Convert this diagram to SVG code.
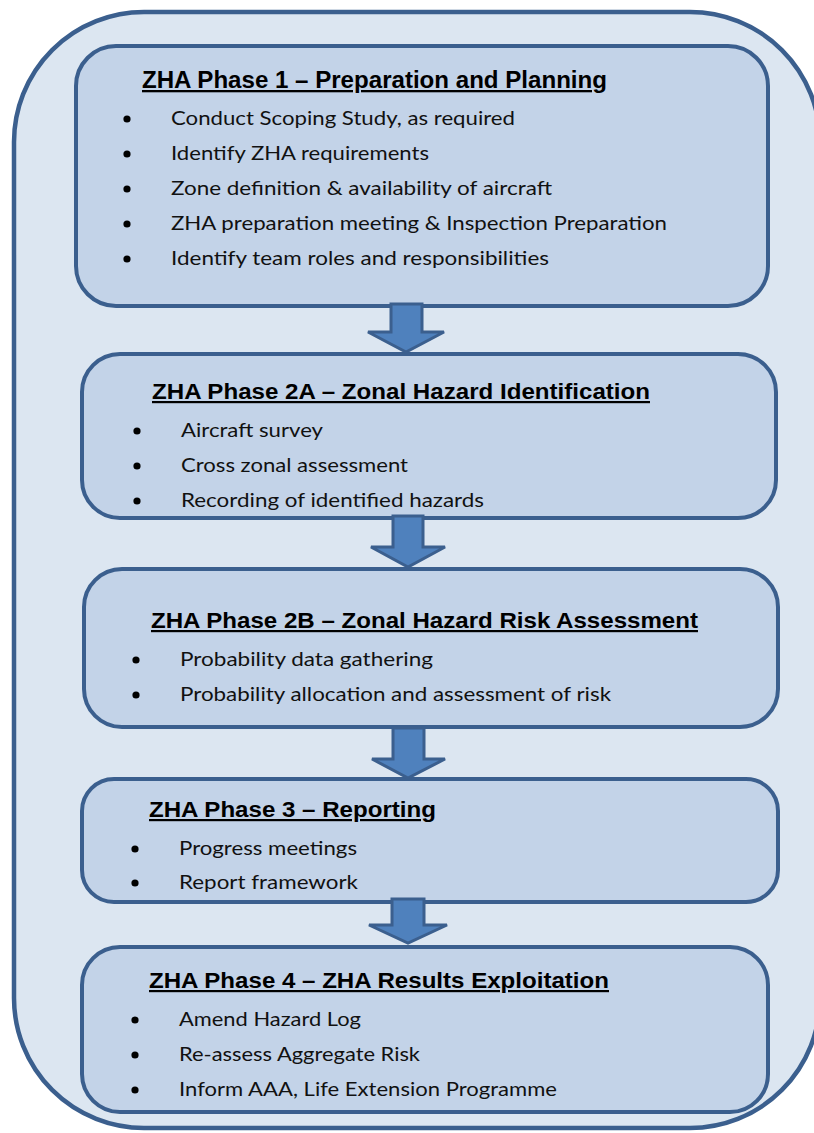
<svg xmlns="http://www.w3.org/2000/svg" width="814" height="1133" viewBox="0 0 814 1133">
<style>
.box{fill:#c3d3e8;stroke:#3b5f8e;stroke-width:4}
.outer{fill:#dce6f1;stroke:#3b5f8e;stroke-width:4.5}
.arrow{fill:#4f81bd;stroke:#3b5f8e;stroke-width:3;stroke-linejoin:miter}
.title{font-family:"Liberation Sans",Arial,sans-serif;font-weight:bold;font-size:22px;fill:#000;text-decoration:underline}
.item{font-family:Lato,"Open Sans","Liberation Sans",sans-serif;font-size:20px;fill:#111}
.bul{fill:#000}
</style>
<rect width="814" height="1133" fill="#ffffff"/>
<g id="frame">
<path class="outer" d="M144,12 H690 A130,130 0 0 1 820,142 V998 A130,130 0 0 1 690,1128 H144 A130,130 0 0 1 14,998 V142 A130,130 0 0 1 144,12 Z"/>
</g>
<g id="phase1">
<rect class="box" x="76" y="46" width="692" height="260" rx="40" ry="40"/>
<text class="title" x="142" y="88" textLength="465" lengthAdjust="spacingAndGlyphs" style="font-size:23px">ZHA Phase 1 – Preparation and Planning</text>
<circle class="bul" cx="127" cy="119" r="3.6"/><text class="item" x="171" y="125" textLength="344" lengthAdjust="spacingAndGlyphs">Conduct Scoping Study, as required</text>
<circle class="bul" cx="127" cy="154" r="3.6"/><text class="item" x="171" y="160" textLength="258" lengthAdjust="spacingAndGlyphs">Identify ZHA requirements</text>
<circle class="bul" cx="127" cy="189" r="3.6"/><text class="item" x="171" y="195" textLength="381" lengthAdjust="spacingAndGlyphs">Zone definition &amp; availability of aircraft</text>
<circle class="bul" cx="127" cy="224" r="3.6"/><text class="item" x="171" y="230" textLength="496" lengthAdjust="spacingAndGlyphs">ZHA preparation meeting &amp; Inspection Preparation</text>
<circle class="bul" cx="127" cy="259" r="3.6"/><text class="item" x="171" y="265" textLength="378" lengthAdjust="spacingAndGlyphs">Identify team roles and responsibilities</text>
</g>
<g id="phase2a">
<rect class="box" x="82" y="354" width="694" height="164" rx="38" ry="38"/>
<text class="title" x="152" y="399" textLength="498" lengthAdjust="spacingAndGlyphs">ZHA Phase 2A – Zonal Hazard Identification</text>
<circle class="bul" cx="137" cy="431" r="3.6"/><text class="item" x="181" y="437" textLength="142" lengthAdjust="spacingAndGlyphs">Aircraft survey</text>
<circle class="bul" cx="137" cy="466" r="3.6"/><text class="item" x="181" y="472" textLength="227" lengthAdjust="spacingAndGlyphs">Cross zonal assessment</text>
<circle class="bul" cx="137" cy="501" r="3.6"/><text class="item" x="181" y="507" textLength="303" lengthAdjust="spacingAndGlyphs">Recording of identified hazards</text>
</g>
<g id="phase2b">
<rect class="box" x="84" y="569" width="694" height="158" rx="38" ry="38"/>
<text class="title" x="151" y="628" textLength="547" lengthAdjust="spacingAndGlyphs">ZHA Phase 2B – Zonal Hazard Risk Assessment</text>
<circle class="bul" cx="136" cy="660" r="3.6"/><text class="item" x="180" y="666" textLength="253" lengthAdjust="spacingAndGlyphs">Probability data gathering</text>
<circle class="bul" cx="136" cy="695" r="3.6"/><text class="item" x="180" y="701" textLength="431" lengthAdjust="spacingAndGlyphs">Probability allocation and assessment of risk</text>
</g>
<g id="phase3">
<rect class="box" x="82" y="779" width="696" height="123" rx="32" ry="32"/>
<text class="title" x="149" y="817" textLength="287" lengthAdjust="spacingAndGlyphs">ZHA Phase 3 – Reporting</text>
<circle class="bul" cx="135" cy="849" r="3.6"/><text class="item" x="179" y="855" textLength="178" lengthAdjust="spacingAndGlyphs">Progress meetings</text>
<circle class="bul" cx="135" cy="883" r="3.6"/><text class="item" x="179" y="889" textLength="179" lengthAdjust="spacingAndGlyphs">Report framework</text>
</g>
<g id="phase4">
<rect class="box" x="82" y="947" width="686" height="165" rx="38" ry="38"/>
<text class="title" x="149" y="988" textLength="460" lengthAdjust="spacingAndGlyphs">ZHA Phase 4 – ZHA Results Exploitation</text>
<circle class="bul" cx="135" cy="1020" r="3.6"/><text class="item" x="179" y="1026" textLength="182" lengthAdjust="spacingAndGlyphs">Amend Hazard Log</text>
<circle class="bul" cx="135" cy="1055" r="3.6"/><text class="item" x="179" y="1061" textLength="241" lengthAdjust="spacingAndGlyphs">Re-assess Aggregate Risk</text>
<circle class="bul" cx="135" cy="1090" r="3.6"/><text class="item" x="179" y="1096" textLength="378" lengthAdjust="spacingAndGlyphs">Inform AAA, Life Extension Programme</text>
</g>
<g id="connectors">
<polygon class="arrow" points="391,304 422,304 422,332 444,332 406,352 368,332 391,332"/>
<polygon class="arrow" points="393,516 423,516 423,547 445,547 408,567 371,547 393,547"/>
<polygon class="arrow" points="393,728 424,728 424,759 445,759 408,778 372,759 393,759"/>
<polygon class="arrow" points="392,899 424,899 424,925 447,925 408,943 369,925 392,925"/>
</g>
</svg>
